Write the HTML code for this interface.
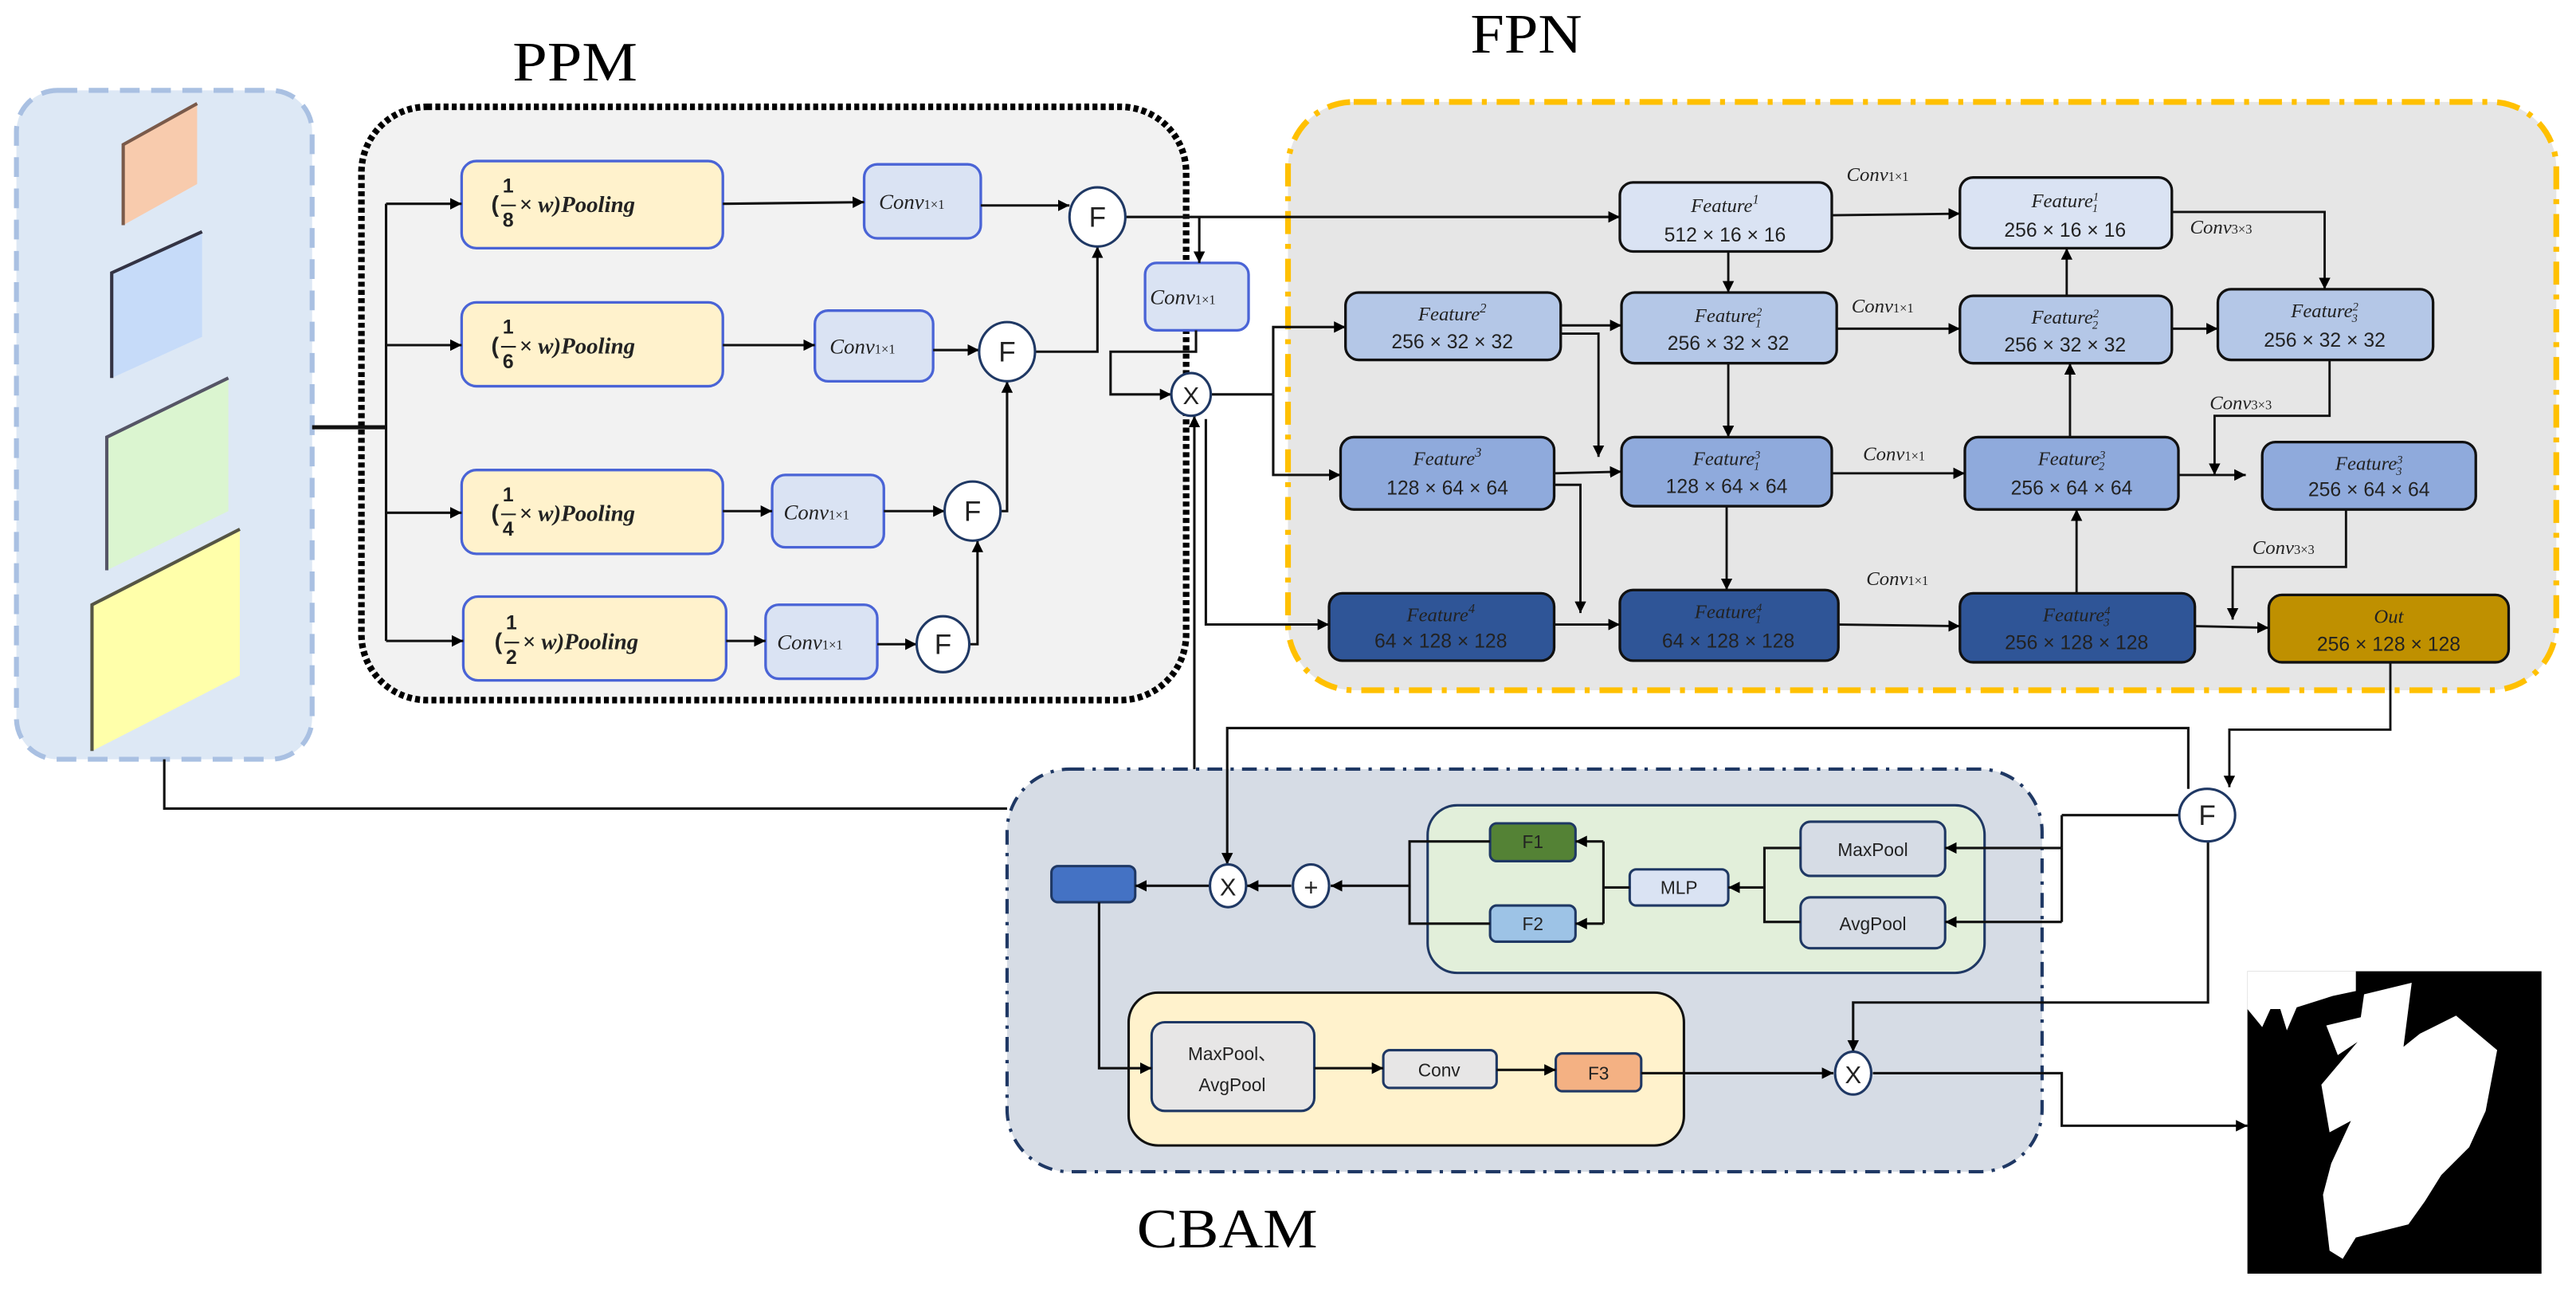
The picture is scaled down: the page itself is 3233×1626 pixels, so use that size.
<!DOCTYPE html>
<html><head><meta charset="utf-8"><style>
html,body{margin:0;padding:0;background:#fff}
svg{display:block}
.t{font-family:"Liberation Sans",sans-serif;fill:#222}
.i{font-family:"Liberation Serif",serif;font-style:italic;fill:#222}
.big{font-family:"Liberation Serif",serif;fill:#000;font-size:34px}
</style></head><body>
<svg width="3233" height="1626" viewBox="0 0 1568 788.6" preserveAspectRatio="none" xmlns="http://www.w3.org/2000/svg">
<defs>
<marker id="a" viewBox="0 0 10 10" refX="10" refY="5" markerWidth="7" markerHeight="7" markerUnits="userSpaceOnUse" orient="auto"><path d="M0,0L10,5L0,10z" fill="#000"/></marker>
</defs>
<g fill="none" stroke="#000" stroke-width="1.3">
</g>
<!-- Input panel -->
<rect x="10" y="55" width="180" height="407" rx="25" fill="#dde8f5" stroke="#a9c0e2" stroke-width="3" stroke-dasharray="12,7"/>
<g stroke-width="2">
<polygon points="75,88 120,63 120,112 75,137" fill="#f8cbad"/>
<polyline points="75,137 75,88 120,63" fill="none" stroke="#7a5a4a"/>
<polygon points="68,166 123,141 123,205 68,230" fill="#c6dbf9"/>
<polyline points="68,230 68,166 123,141" fill="none" stroke="#334"/>
<polygon points="65,266 139,230 139,311 65,347" fill="#dbf5d0"/>
<polyline points="65,347 65,266 139,230" fill="none" stroke="#556"/>
<polygon points="56,368 146,322 146,411 56,457" fill="#ffffaa"/>
<polyline points="56,457 56,368 146,322" fill="none" stroke="#554"/>
</g>
<!-- Titles -->
<text class="big" x="312" y="49" textLength="76" lengthAdjust="spacingAndGlyphs">PPM</text>
<text class="big" x="895" y="32" textLength="68" lengthAdjust="spacingAndGlyphs">FPN</text>
<text class="big" x="692" y="759" textLength="110" lengthAdjust="spacingAndGlyphs">CBAM</text>

<!-- PPM box -->
<rect x="220" y="65" width="502" height="361" rx="40" fill="#f2f2f2" stroke="#000" stroke-width="4" stroke-dasharray="3,2"/>
<!-- FPN box -->
<rect x="784" y="62" width="772" height="358" rx="40" fill="#e6e6e6" stroke="#ffc000" stroke-width="3.5" stroke-dasharray="14,6,3,6"/>
<!-- CBAM box -->
<rect x="613" y="468" width="630" height="245" rx="38" fill="#d6dce5" stroke="#1f3864" stroke-width="2" stroke-dasharray="9,5,2,5"/>

<!-- PPM pooling boxes -->
<g stroke="#4a64d6" stroke-width="1.6">
<rect x="281" y="98" width="159" height="53" rx="9" fill="#fff2cc"/>
<rect x="281" y="184" width="159" height="51" rx="9" fill="#fff2cc"/>
<rect x="281" y="286" width="159" height="51" rx="9" fill="#fff2cc"/>
<rect x="282" y="363" width="160" height="51" rx="9" fill="#fff2cc"/>
<rect x="526" y="100" width="71" height="45" rx="8" fill="#dae3f3"/>
<rect x="496" y="189" width="72" height="43" rx="8" fill="#dae3f3"/>
<rect x="470" y="289" width="68" height="44" rx="8" fill="#dae3f3"/>
<rect x="466" y="368" width="68" height="45" rx="8" fill="#dae3f3"/>
<rect x="697" y="160" width="63" height="41" rx="7" fill="#dae3f3"/>
</g>
<g class="i" font-size="14" font-weight="bold">
<g transform="translate(0,124)"><text x="299" y="5" font-style="normal" class="t">(</text><text x="306" y="-7" class="t" font-size="12" font-style="normal">1</text><line x1="305" y1="1" x2="314" y2="1" stroke="#222" stroke-width="1"/><text x="306" y="14" class="t" font-size="12" font-style="normal">8</text><text x="316" y="5">× w)Pooling</text></g>
<g transform="translate(0,210)"><text x="299" y="5" font-style="normal" class="t">(</text><text x="306" y="-7" class="t" font-size="12" font-style="normal">1</text><line x1="305" y1="1" x2="314" y2="1" stroke="#222" stroke-width="1"/><text x="306" y="14" class="t" font-size="12" font-style="normal">6</text><text x="316" y="5">× w)Pooling</text></g>
<g transform="translate(0,312)"><text x="299" y="5" font-style="normal" class="t">(</text><text x="306" y="-7" class="t" font-size="12" font-style="normal">1</text><line x1="305" y1="1" x2="314" y2="1" stroke="#222" stroke-width="1"/><text x="306" y="14" class="t" font-size="12" font-style="normal">4</text><text x="316" y="5">× w)Pooling</text></g>
<g transform="translate(2,390)"><text x="299" y="5" font-style="normal" class="t">(</text><text x="306" y="-7" class="t" font-size="12" font-style="normal">1</text><line x1="305" y1="1" x2="314" y2="1" stroke="#222" stroke-width="1"/><text x="306" y="14" class="t" font-size="12" font-style="normal">2</text><text x="316" y="5">× w)Pooling</text></g>
</g>
<g class="i" font-size="13">
<text x="535" y="127">Conv<tspan font-size="8" font-style="normal">1×1</tspan></text>
<text x="505" y="215">Conv<tspan font-size="8" font-style="normal">1×1</tspan></text>
<text x="477" y="316">Conv<tspan font-size="8" font-style="normal">1×1</tspan></text>
<text x="473" y="395">Conv<tspan font-size="8" font-style="normal">1×1</tspan></text>
<text x="700" y="185">Conv<tspan font-size="8" font-style="normal">1×1</tspan></text>
</g>

<!-- PPM connectors -->
<g fill="none" stroke="#111" stroke-width="1.5">
<line x1="190" y1="260" x2="235" y2="260" stroke-width="2.5"/>
<line x1="235" y1="124" x2="235" y2="390"/>
<line x1="235" y1="124" x2="281" y2="124" marker-end="url(#a)"/>
<line x1="235" y1="210" x2="281" y2="210" marker-end="url(#a)"/>
<line x1="235" y1="312" x2="281" y2="312" marker-end="url(#a)"/>
<line x1="235" y1="390" x2="282" y2="390" marker-end="url(#a)"/>
<line x1="440" y1="124" x2="526" y2="123" marker-end="url(#a)"/>
<line x1="597" y1="125" x2="651" y2="125" marker-end="url(#a)"/>
<line x1="440" y1="210" x2="496" y2="210" marker-end="url(#a)"/>
<line x1="568" y1="213" x2="596" y2="213" marker-end="url(#a)"/>
<line x1="440" y1="311" x2="470" y2="311" marker-end="url(#a)"/>
<line x1="538" y1="311" x2="575" y2="311" marker-end="url(#a)"/>
<line x1="442" y1="390" x2="466" y2="390" marker-end="url(#a)"/>
<line x1="534" y1="392" x2="558" y2="392" marker-end="url(#a)"/>
<polyline points="590,392 595,392 595,329" marker-end="url(#a)"/>
<polyline points="609,311 613,311 613,232" marker-end="url(#a)"/>
<polyline points="630,214 668,214 668,150" marker-end="url(#a)"/>
<line x1="685" y1="132" x2="986" y2="132" marker-end="url(#a)"/>
<line x1="730" y1="132" x2="730" y2="160" marker-end="url(#a)"/>
<polyline points="728,201 728,214 676,214 676,240 713,240" marker-end="url(#a)"/>
<line x1="727" y1="468" x2="727" y2="253" marker-end="url(#a)"/>
<polyline points="734,255 734,380 809,380" marker-end="url(#a)"/>
<polyline points="737,240 775,240"/>
<polyline points="775,240 775,199 819,199" marker-end="url(#a)"/>
<polyline points="775,240 775,289 816,289" marker-end="url(#a)"/>
</g>
<g fill="#fff" stroke="#1f3864" stroke-width="1.5">
<ellipse cx="668" cy="132" rx="17" ry="18"/>
<ellipse cx="613" cy="214" rx="17" ry="18"/>
<ellipse cx="592" cy="311" rx="17" ry="18"/>
<ellipse cx="574" cy="392" rx="16" ry="17"/>
<ellipse cx="725" cy="240" rx="12" ry="13"/>
</g>
<g class="t" font-size="17" text-anchor="middle">
<text x="668" y="138">F</text><text x="613" y="220">F</text><text x="592" y="317">F</text><text x="574" y="398">F</text>
<text x="725" y="246" font-size="15">X</text>
</g>

<!-- FPN boxes -->
<g stroke="#111" stroke-width="1.6">
<rect x="986" y="111" width="129" height="42" rx="8" fill="#dae3f3"/>
<rect x="1193" y="108" width="129" height="43" rx="8" fill="#dae3f3"/>
<rect x="819" y="178" width="131" height="41" rx="8" fill="#b4c7e7"/>
<rect x="987" y="178" width="131" height="43" rx="8" fill="#b4c7e7"/>
<rect x="1193" y="180" width="129" height="41" rx="8" fill="#b4c7e7"/>
<rect x="1350" y="176" width="131" height="43" rx="8" fill="#b4c7e7"/>
<rect x="816" y="266" width="130" height="44" rx="8" fill="#8faadc"/>
<rect x="987" y="266" width="128" height="42" rx="8" fill="#8faadc"/>
<rect x="1196" y="266" width="130" height="44" rx="8" fill="#8faadc"/>
<rect x="1377" y="269" width="130" height="41" rx="8" fill="#8faadc"/>
<rect x="809" y="361" width="137" height="41" rx="8" fill="#2f5597"/>
<rect x="986" y="359" width="133" height="43" rx="8" fill="#2f5597"/>
<rect x="1193" y="361" width="143" height="42" rx="8" fill="#2f5597"/>
<rect x="1381" y="362" width="146" height="41" rx="8" fill="#bf9000"/>
</g>
<g font-size="12" text-anchor="middle">
<g class="i"><text x="1050" y="129">Feature<tspan font-size="8" dy="-5">1</tspan></text>
<text x="1257" y="126">Feature<tspan font-size="7" dy="-4">1</tspan><tspan font-size="7" dy="7" dx="-4">1</tspan></text>
<text x="884" y="195">Feature<tspan font-size="8" dy="-5">2</tspan></text>
<text x="1052" y="196">Feature<tspan font-size="7" dy="-4">2</tspan><tspan font-size="7" dy="7" dx="-4">1</tspan></text>
<text x="1257" y="197">Feature<tspan font-size="7" dy="-4">2</tspan><tspan font-size="7" dy="7" dx="-4">2</tspan></text>
<text x="1415" y="193">Feature<tspan font-size="7" dy="-4">2</tspan><tspan font-size="7" dy="7" dx="-4">3</tspan></text>
<text x="881" y="283">Feature<tspan font-size="8" dy="-5">3</tspan></text>
<text x="1051" y="283">Feature<tspan font-size="7" dy="-4">3</tspan><tspan font-size="7" dy="7" dx="-4">1</tspan></text>
<text x="1261" y="283">Feature<tspan font-size="7" dy="-4">3</tspan><tspan font-size="7" dy="7" dx="-4">2</tspan></text>
<text x="1442" y="286">Feature<tspan font-size="7" dy="-4">3</tspan><tspan font-size="7" dy="7" dx="-4">3</tspan></text>
<text x="877" y="378">Feature<tspan font-size="8" dy="-5">4</tspan></text>
<text x="1052" y="376">Feature<tspan font-size="7" dy="-4">4</tspan><tspan font-size="7" dy="7" dx="-4">1</tspan></text>
<text x="1264" y="378">Feature<tspan font-size="7" dy="-4">4</tspan><tspan font-size="7" dy="7" dx="-4">3</tspan></text>
<text x="1454" y="379">Out</text></g>
<g class="t">
<text x="1050" y="147">512 × 16 × 16</text>
<text x="1257" y="144">256 × 16 × 16</text>
<text x="884" y="212">256 × 32 × 32</text>
<text x="1052" y="213">256 × 32 × 32</text>
<text x="1257" y="214">256 × 32 × 32</text>
<text x="1415" y="211">256 × 32 × 32</text>
<text x="881" y="301">128 × 64 × 64</text>
<text x="1051" y="300">128 × 64 × 64</text>
<text x="1261" y="301">256 × 64 × 64</text>
<text x="1442" y="302">256 × 64 × 64</text>
<text x="877" y="394">64 × 128 × 128</text>
<text x="1052" y="394">64 × 128 × 128</text>
<text x="1264" y="395">256 × 128 × 128</text>
<text x="1454" y="396">256 × 128 × 128</text>
</g></g>
<g class="i" font-size="12">
<text x="1124" y="110">Conv<tspan font-size="8" font-style="normal">1×1</tspan></text>
<text x="1127" y="190">Conv<tspan font-size="8" font-style="normal">1×1</tspan></text>
<text x="1134" y="280">Conv<tspan font-size="8" font-style="normal">1×1</tspan></text>
<text x="1136" y="356">Conv<tspan font-size="8" font-style="normal">1×1</tspan></text>
<text x="1333" y="142">Conv<tspan font-size="8" font-style="normal">3×3</tspan></text>
<text x="1345" y="249">Conv<tspan font-size="8" font-style="normal">3×3</tspan></text>
<text x="1371" y="337">Conv<tspan font-size="8" font-style="normal">3×3</tspan></text>
</g>
<!-- FPN connectors -->
<g fill="none" stroke="#111" stroke-width="1.4">
<line x1="1115" y1="131" x2="1193" y2="130" marker-end="url(#a)"/>
<line x1="1052" y1="153" x2="1052" y2="178" marker-end="url(#a)"/>
<line x1="1052" y1="221" x2="1052" y2="266" marker-end="url(#a)"/>
<line x1="1051" y1="308" x2="1051" y2="359" marker-end="url(#a)"/>
<line x1="950" y1="198" x2="987" y2="198" marker-end="url(#a)"/>
<polyline points="950,203 973,203 973,278" marker-end="url(#a)"/>
<line x1="946" y1="288" x2="987" y2="287" marker-end="url(#a)"/>
<polyline points="946,295 962,295 962,373" marker-end="url(#a)"/>
<line x1="946" y1="380" x2="986" y2="380" marker-end="url(#a)"/>
<line x1="1118" y1="200" x2="1193" y2="200" marker-end="url(#a)"/>
<line x1="1115" y1="288" x2="1196" y2="288" marker-end="url(#a)"/>
<line x1="1119" y1="380" x2="1193" y2="381" marker-end="url(#a)"/>
<line x1="1264" y1="361" x2="1264" y2="310" marker-end="url(#a)"/>
<line x1="1260" y1="266" x2="1260" y2="221" marker-end="url(#a)"/>
<line x1="1258" y1="180" x2="1258" y2="151" marker-end="url(#a)"/>
<polyline points="1322,129 1415,129 1415,176" marker-end="url(#a)"/>
<line x1="1322" y1="200" x2="1350" y2="200" marker-end="url(#a)"/>
<polyline points="1418,219 1418,253 1348,253 1348,289" marker-end="url(#a)"/>
<line x1="1326" y1="289" x2="1367" y2="289" marker-end="url(#a)"/>
<polyline points="1428,310 1428,345 1359,345 1359,377" marker-end="url(#a)"/>
<line x1="1336" y1="381" x2="1381" y2="382" marker-end="url(#a)"/>
<polyline points="1455,403 1455,444 1357,444 1357,479" marker-end="url(#a)"/>
</g>

<!-- CBAM internals -->
<rect x="869" y="490" width="339" height="102" rx="18" fill="#e2efda" stroke="#1f3864" stroke-width="1.5"/>
<rect x="687" y="604" width="338" height="93" rx="18" fill="#fff2cc" stroke="#111" stroke-width="1.5"/>
<g stroke="#1f3864" stroke-width="1.5">
<rect x="907" y="501" width="52" height="23" rx="4" fill="#548235"/>
<rect x="907" y="551" width="52" height="22" rx="4" fill="#9dc3e6"/>
<rect x="992" y="529" width="60" height="22" rx="4" fill="#dae3f3"/>
<rect x="1096" y="500" width="88" height="33" rx="6" fill="#d6dce5"/>
<rect x="1096" y="546" width="88" height="31" rx="6" fill="#d6dce5"/>
<rect x="701" y="622" width="99" height="54" rx="8" fill="#e7e6e6"/>
<rect x="842" y="639" width="69" height="23" rx="4" fill="#e7e6e6"/>
<rect x="947" y="641" width="52" height="23" rx="4" fill="#f4b183"/>
<rect x="640" y="527" width="51" height="22" rx="4" fill="#4472c4"/>
</g>
<g class="t" font-size="11" text-anchor="middle">
<text x="933" y="516">F1</text><text x="933" y="566">F2</text><text x="1022" y="544">MLP</text>
<text x="1140" y="521">MaxPool</text><text x="1140" y="566">AvgPool</text>
<text x="750" y="645">MaxPool、</text><text x="750" y="664">AvgPool</text>
<text x="876" y="655">Conv</text><text x="973" y="657">F3</text>
</g>
<g fill="none" stroke="#111" stroke-width="1.5">
<polyline points="100,462 100,492 613,492"/>
<polyline points="1332,480 1332,443 747,443 747,526" marker-end="url(#a)"/>
<polyline points="1326,496 1255,496"/>
<line x1="1255" y1="516" x2="1255" y2="561"/>
<line x1="1255" y1="496" x2="1255" y2="516"/>
<line x1="1255" y1="516" x2="1184" y2="516" marker-end="url(#a)"/>
<line x1="1255" y1="561" x2="1184" y2="561" marker-end="url(#a)"/>
<polyline points="1096,516 1074,516 1074,561 1096,561"/>
<line x1="1074" y1="540" x2="1052" y2="540" marker-end="url(#a)"/>
<polyline points="992,540 976,540"/>
<line x1="976" y1="512" x2="976" y2="562"/>
<line x1="976" y1="512" x2="959" y2="512" marker-end="url(#a)"/>
<line x1="976" y1="562" x2="959" y2="562" marker-end="url(#a)"/>
<polyline points="907,512 858,512 858,562 907,562"/>
<line x1="858" y1="539" x2="810" y2="539" marker-end="url(#a)"/>
<line x1="786" y1="539" x2="759" y2="539" marker-end="url(#a)"/>
<line x1="736" y1="539" x2="691" y2="539" marker-end="url(#a)"/>
<polyline points="669,549 669,650 701,650" marker-end="url(#a)"/>
<line x1="800" y1="650" x2="842" y2="650" marker-end="url(#a)"/>
<line x1="911" y1="651" x2="947" y2="651" marker-end="url(#a)"/>
<line x1="999" y1="653" x2="1116" y2="653" marker-end="url(#a)"/>
<polyline points="1344,512 1344,610 1128,610 1128,640" marker-end="url(#a)"/>
<polyline points="1140,653 1255,653 1255,685 1368,685" marker-end="url(#a)"/>
</g>
<g fill="#fff" stroke="#1f3864" stroke-width="1.5">
<ellipse cx="747.5" cy="539" rx="11" ry="13"/>
<ellipse cx="798" cy="539" rx="11" ry="13"/>
<ellipse cx="1128" cy="653" rx="11" ry="13"/>
<ellipse cx="1343.5" cy="496" rx="17" ry="16"/>
</g>
<g class="t" font-size="15" text-anchor="middle">
<text x="747.5" y="545">X</text><text x="798" y="545">+</text><text x="1128" y="659">X</text><text x="1343.5" y="502" font-size="17">F</text>
</g>

<!-- Output mask -->
<rect x="1368" y="591" width="179" height="184" fill="#000"/>
<polygon fill="#fff" points="1368,591 1434,591 1434,603 1420,606 1398,613 1392,627 1388,614 1382,614 1377,625 1368,614"/>
<polygon fill="#fff" points="1439,605 1468,598 1463,637 1473,629 1495,618 1520,639 1513,676 1503,698 1486,715 1476,731 1466,745 1434,753 1426,766 1418,761 1414,727 1419,708 1431,682 1418,689 1413,660 1435,634 1423,642 1416,624 1437,619"/>
</svg>
</body></html>
